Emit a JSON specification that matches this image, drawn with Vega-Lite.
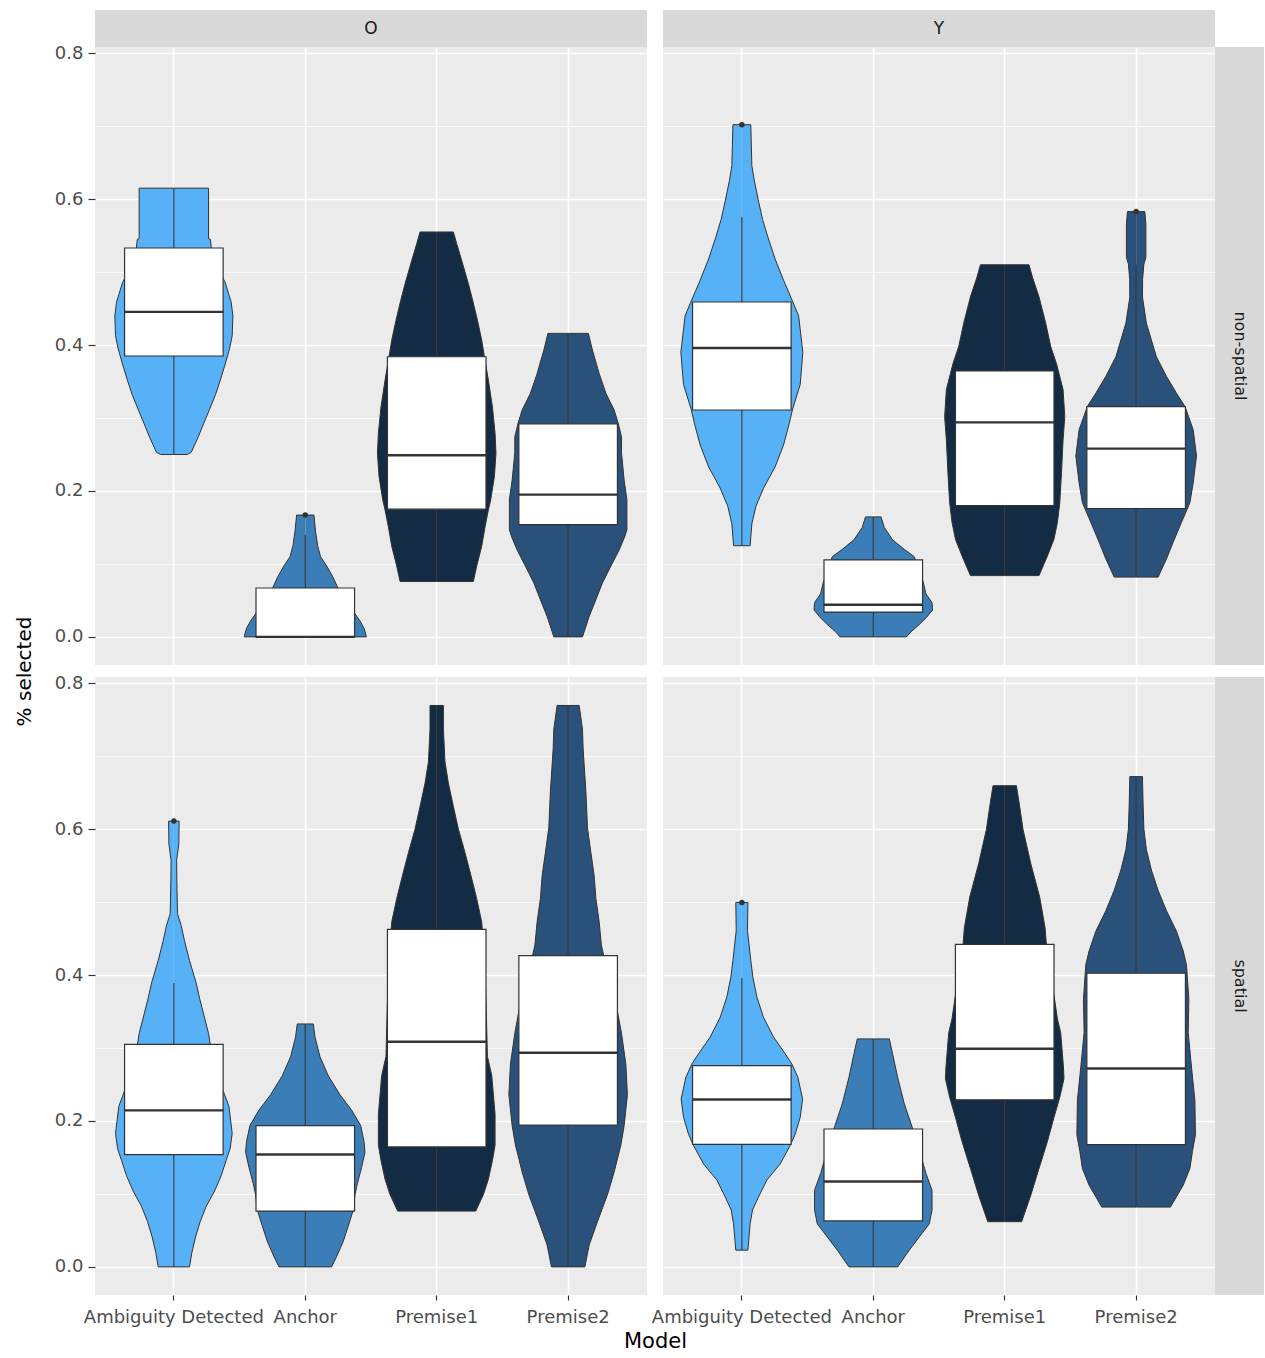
{
  "$schema": "https://vega.github.io/schema/vega-lite/v6.json",
  "background": "#FFFFFF",
  "padding": {"left": 14, "top": 10, "right": 0, "bottom": 4},
  "datasets": {
    "vOn": [
      {"m":"Ambiguity Detected","y":0.25,"h":0},{"m":"Ambiguity Detected","y":0.25,"h":0.101},{"m":"Ambiguity Detected","y":0.253,"h":0.132},{"m":"Ambiguity Detected","y":0.273,"h":0.183},{"m":"Ambiguity Detected","y":0.292,"h":0.226},{"m":"Ambiguity Detected","y":0.312,"h":0.272},{"m":"Ambiguity Detected","y":0.332,"h":0.317},{"m":"Ambiguity Detected","y":0.351,"h":0.352},{"m":"Ambiguity Detected","y":0.371,"h":0.386},{"m":"Ambiguity Detected","y":0.395,"h":0.424},{"m":"Ambiguity Detected","y":0.413,"h":0.444},{"m":"Ambiguity Detected","y":0.44,"h":0.449},{"m":"Ambiguity Detected","y":0.459,"h":0.436},{"m":"Ambiguity Detected","y":0.469,"h":0.419},{"m":"Ambiguity Detected","y":0.486,"h":0.39},{"m":"Ambiguity Detected","y":0.5,"h":0.35},{"m":"Ambiguity Detected","y":0.52,"h":0.304},{"m":"Ambiguity Detected","y":0.533,"h":0.285},{"m":"Ambiguity Detected","y":0.545,"h":0.278},{"m":"Ambiguity Detected","y":0.546,"h":0.264},{"m":"Ambiguity Detected","y":0.615,"h":0.264},{"m":"Ambiguity Detected","y":0.615,"h":0},
      {"m":"Anchor","y":0,"h":0},{"m":"Anchor","y":0,"h":0.464},{"m":"Anchor","y":0.0025,"h":0.462},{"m":"Anchor","y":0.012,"h":0.447},{"m":"Anchor","y":0.022,"h":0.416},{"m":"Anchor","y":0.035,"h":0.365},{"m":"Anchor","y":0.05,"h":0.304},{"m":"Anchor","y":0.068,"h":0.246},{"m":"Anchor","y":0.081,"h":0.213},{"m":"Anchor","y":0.096,"h":0.167},{"m":"Anchor","y":0.11,"h":0.116},{"m":"Anchor","y":0.125,"h":0.094},{"m":"Anchor","y":0.145,"h":0.078},{"m":"Anchor","y":0.167,"h":0.066},{"m":"Anchor","y":0.167,"h":0},
      {"m":"Premise1","y":0.076,"h":0},{"m":"Premise1","y":0.076,"h":0.279},{"m":"Premise1","y":0.097,"h":0.304},{"m":"Premise1","y":0.124,"h":0.342},{"m":"Premise1","y":0.151,"h":0.368},{"m":"Premise1","y":0.174,"h":0.393},{"m":"Premise1","y":0.188,"h":0.411},{"m":"Premise1","y":0.22,"h":0.439},{"m":"Premise1","y":0.252,"h":0.451},{"m":"Premise1","y":0.279,"h":0.444},{"m":"Premise1","y":0.315,"h":0.424},{"m":"Premise1","y":0.352,"h":0.393},{"m":"Premise1","y":0.384,"h":0.363},{"m":"Premise1","y":0.407,"h":0.342},{"m":"Premise1","y":0.434,"h":0.31},{"m":"Premise1","y":0.461,"h":0.274},{"m":"Premise1","y":0.484,"h":0.241},{"m":"Premise1","y":0.516,"h":0.19},{"m":"Premise1","y":0.539,"h":0.152},{"m":"Premise1","y":0.555,"h":0.127},{"m":"Premise1","y":0.555,"h":0},
      {"m":"Premise2","y":0,"h":0},{"m":"Premise2","y":0,"h":0.109},{"m":"Premise2","y":0.028,"h":0.16},{"m":"Premise2","y":0.051,"h":0.211},{"m":"Premise2","y":0.074,"h":0.261},{"m":"Premise2","y":0.097,"h":0.325},{"m":"Premise2","y":0.119,"h":0.388},{"m":"Premise2","y":0.138,"h":0.432},{"m":"Premise2","y":0.147,"h":0.447},{"m":"Premise2","y":0.188,"h":0.447},{"m":"Premise2","y":0.215,"h":0.426},{"m":"Premise2","y":0.252,"h":0.406},{"m":"Premise2","y":0.274,"h":0.406},{"m":"Premise2","y":0.293,"h":0.381},{"m":"Premise2","y":0.311,"h":0.35},{"m":"Premise2","y":0.334,"h":0.287},{"m":"Premise2","y":0.361,"h":0.236},{"m":"Premise2","y":0.393,"h":0.185},{"m":"Premise2","y":0.416,"h":0.154},{"m":"Premise2","y":0.416,"h":0}
    ],
    "vYn": [
      {"m":"Ambiguity Detected","y":0.125,"h":0},{"m":"Ambiguity Detected","y":0.125,"h":0.063},{"m":"Ambiguity Detected","y":0.155,"h":0.076},{"m":"Ambiguity Detected","y":0.179,"h":0.107},{"m":"Ambiguity Detected","y":0.204,"h":0.165},{"m":"Ambiguity Detected","y":0.233,"h":0.253},{"m":"Ambiguity Detected","y":0.263,"h":0.317},{"m":"Ambiguity Detected","y":0.292,"h":0.36},{"m":"Ambiguity Detected","y":0.312,"h":0.386},{"m":"Ambiguity Detected","y":0.346,"h":0.444},{"m":"Ambiguity Detected","y":0.39,"h":0.464},{"m":"Ambiguity Detected","y":0.44,"h":0.432},{"m":"Ambiguity Detected","y":0.462,"h":0.381},{"m":"Ambiguity Detected","y":0.489,"h":0.317},{"m":"Ambiguity Detected","y":0.518,"h":0.253},{"m":"Ambiguity Detected","y":0.548,"h":0.198},{"m":"Ambiguity Detected","y":0.572,"h":0.158},{"m":"Ambiguity Detected","y":0.597,"h":0.127},{"m":"Ambiguity Detected","y":0.626,"h":0.094},{"m":"Ambiguity Detected","y":0.646,"h":0.076},{"m":"Ambiguity Detected","y":0.702,"h":0.068},{"m":"Ambiguity Detected","y":0.702,"h":0},
      {"m":"Anchor","y":0,"h":0},{"m":"Anchor","y":0,"h":0.253},{"m":"Anchor","y":0.007,"h":0.287},{"m":"Anchor","y":0.017,"h":0.35},{"m":"Anchor","y":0.027,"h":0.406},{"m":"Anchor","y":0.037,"h":0.451},{"m":"Anchor","y":0.047,"h":0.447},{"m":"Anchor","y":0.059,"h":0.401},{"m":"Anchor","y":0.075,"h":0.38},{"m":"Anchor","y":0.09,"h":0.35},{"m":"Anchor","y":0.11,"h":0.312},{"m":"Anchor","y":0.12,"h":0.236},{"m":"Anchor","y":0.133,"h":0.147},{"m":"Anchor","y":0.15,"h":0.084},{"m":"Anchor","y":0.1645,"h":0.059},{"m":"Anchor","y":0.1645,"h":0},
      {"m":"Premise1","y":0.084,"h":0},{"m":"Premise1","y":0.084,"h":0.261},{"m":"Premise1","y":0.111,"h":0.325},{"m":"Premise1","y":0.134,"h":0.375},{"m":"Premise1","y":0.157,"h":0.401},{"m":"Premise1","y":0.184,"h":0.419},{"m":"Premise1","y":0.225,"h":0.432},{"m":"Premise1","y":0.27,"h":0.444},{"m":"Premise1","y":0.302,"h":0.457},{"m":"Premise1","y":0.339,"h":0.444},{"m":"Premise1","y":0.375,"h":0.393},{"m":"Premise1","y":0.398,"h":0.35},{"m":"Premise1","y":0.43,"h":0.312},{"m":"Premise1","y":0.466,"h":0.261},{"m":"Premise1","y":0.493,"h":0.211},{"m":"Premise1","y":0.51,"h":0.185},{"m":"Premise1","y":0.51,"h":0},
      {"m":"Premise2","y":0.082,"h":0},{"m":"Premise2","y":0.082,"h":0.167},{"m":"Premise2","y":0.107,"h":0.231},{"m":"Premise2","y":0.13,"h":0.282},{"m":"Premise2","y":0.157,"h":0.345},{"m":"Premise2","y":0.184,"h":0.409},{"m":"Premise2","y":0.211,"h":0.434},{"m":"Premise2","y":0.248,"h":0.459},{"m":"Premise2","y":0.284,"h":0.434},{"m":"Premise2","y":0.316,"h":0.371},{"m":"Premise2","y":0.334,"h":0.307},{"m":"Premise2","y":0.357,"h":0.231},{"m":"Premise2","y":0.384,"h":0.154},{"m":"Premise2","y":0.407,"h":0.116},{"m":"Premise2","y":0.43,"h":0.078},{"m":"Premise2","y":0.466,"h":0.048},{"m":"Premise2","y":0.49,"h":0.049},{"m":"Premise2","y":0.511,"h":0.059},{"m":"Premise2","y":0.52,"h":0.074},{"m":"Premise2","y":0.566,"h":0.074},{"m":"Premise2","y":0.583,"h":0.066},{"m":"Premise2","y":0.583,"h":0}
    ],
    "vOs": [
      {"m":"Ambiguity Detected","y":0,"h":0},{"m":"Ambiguity Detected","y":0,"h":0.119},{"m":"Ambiguity Detected","y":0.0195,"h":0.137},{"m":"Ambiguity Detected","y":0.041,"h":0.165},{"m":"Ambiguity Detected","y":0.062,"h":0.2},{"m":"Ambiguity Detected","y":0.083,"h":0.246},{"m":"Ambiguity Detected","y":0.104,"h":0.31},{"m":"Ambiguity Detected","y":0.125,"h":0.36},{"m":"Ambiguity Detected","y":0.146,"h":0.398},{"m":"Ambiguity Detected","y":0.162,"h":0.428},{"m":"Ambiguity Detected","y":0.183,"h":0.444},{"m":"Ambiguity Detected","y":0.22,"h":0.419},{"m":"Ambiguity Detected","y":0.236,"h":0.386},{"m":"Ambiguity Detected","y":0.25,"h":0.358},{"m":"Ambiguity Detected","y":0.27,"h":0.32},{"m":"Ambiguity Detected","y":0.29,"h":0.289},{"m":"Ambiguity Detected","y":0.32,"h":0.264},{"m":"Ambiguity Detected","y":0.341,"h":0.234},{"m":"Ambiguity Detected","y":0.368,"h":0.196},{"m":"Ambiguity Detected","y":0.389,"h":0.17},{"m":"Ambiguity Detected","y":0.42,"h":0.119},{"m":"Ambiguity Detected","y":0.447,"h":0.081},{"m":"Ambiguity Detected","y":0.468,"h":0.056},{"m":"Ambiguity Detected","y":0.484,"h":0.028},{"m":"Ambiguity Detected","y":0.526,"h":0.023},{"m":"Ambiguity Detected","y":0.557,"h":0.021},{"m":"Ambiguity Detected","y":0.58,"h":0.038},{"m":"Ambiguity Detected","y":0.611,"h":0.04},{"m":"Ambiguity Detected","y":0.611,"h":0},
      {"m":"Anchor","y":0,"h":0},{"m":"Anchor","y":0,"h":0.2},{"m":"Anchor","y":0.014,"h":0.238},{"m":"Anchor","y":0.035,"h":0.289},{"m":"Anchor","y":0.056,"h":0.327},{"m":"Anchor","y":0.078,"h":0.365},{"m":"Anchor","y":0.099,"h":0.378},{"m":"Anchor","y":0.114,"h":0.396},{"m":"Anchor","y":0.136,"h":0.428},{"m":"Anchor","y":0.157,"h":0.454},{"m":"Anchor","y":0.172,"h":0.447},{"m":"Anchor","y":0.194,"h":0.421},{"m":"Anchor","y":0.215,"h":0.352},{"m":"Anchor","y":0.236,"h":0.264},{"m":"Anchor","y":0.262,"h":0.175},{"m":"Anchor","y":0.288,"h":0.112},{"m":"Anchor","y":0.315,"h":0.074},{"m":"Anchor","y":0.333,"h":0.061},{"m":"Anchor","y":0.333,"h":0},
      {"m":"Premise1","y":0.0765,"h":0},{"m":"Premise1","y":0.0765,"h":0.297},{"m":"Premise1","y":0.099,"h":0.355},{"m":"Premise1","y":0.12,"h":0.393},{"m":"Premise1","y":0.146,"h":0.424},{"m":"Premise1","y":0.167,"h":0.444},{"m":"Premise1","y":0.209,"h":0.444},{"m":"Premise1","y":0.262,"h":0.419},{"m":"Premise1","y":0.2885,"h":0.386},{"m":"Premise1","y":0.35,"h":0.377},{"m":"Premise1","y":0.4,"h":0.369},{"m":"Premise1","y":0.44,"h":0.358},{"m":"Premise1","y":0.473,"h":0.342},{"m":"Premise1","y":0.505,"h":0.304},{"m":"Premise1","y":0.536,"h":0.261},{"m":"Premise1","y":0.568,"h":0.215},{"m":"Premise1","y":0.6,"h":0.165},{"m":"Premise1","y":0.631,"h":0.127},{"m":"Premise1","y":0.663,"h":0.089},{"m":"Premise1","y":0.692,"h":0.063},{"m":"Premise1","y":0.737,"h":0.051},{"m":"Premise1","y":0.7695,"h":0.051},{"m":"Premise1","y":0.7695,"h":0},
      {"m":"Premise2","y":0,"h":0},{"m":"Premise2","y":0,"h":0.127},{"m":"Premise2","y":0.03,"h":0.16},{"m":"Premise2","y":0.062,"h":0.223},{"m":"Premise2","y":0.099,"h":0.299},{"m":"Premise2","y":0.13,"h":0.35},{"m":"Premise2","y":0.167,"h":0.401},{"m":"Premise2","y":0.1935,"h":0.426},{"m":"Premise2","y":0.236,"h":0.451},{"m":"Premise2","y":0.278,"h":0.439},{"m":"Premise2","y":0.32,"h":0.406},{"m":"Premise2","y":0.36,"h":0.365},{"m":"Premise2","y":0.4,"h":0.304},{"m":"Premise2","y":0.441,"h":0.253},{"m":"Premise2","y":0.473,"h":0.236},{"m":"Premise2","y":0.505,"h":0.211},{"m":"Premise2","y":0.536,"h":0.198},{"m":"Premise2","y":0.568,"h":0.173},{"m":"Premise2","y":0.602,"h":0.147},{"m":"Premise2","y":0.652,"h":0.135},{"m":"Premise2","y":0.71,"h":0.114},{"m":"Premise2","y":0.737,"h":0.109},{"m":"Premise2","y":0.7695,"h":0.084},{"m":"Premise2","y":0.7695,"h":0}
    ],
    "vYs": [
      {"m":"Ambiguity Detected","y":0.023,"h":0},{"m":"Ambiguity Detected","y":0.023,"h":0.046},{"m":"Ambiguity Detected","y":0.059,"h":0.063},{"m":"Ambiguity Detected","y":0.078,"h":0.081},{"m":"Ambiguity Detected","y":0.096,"h":0.127},{"m":"Ambiguity Detected","y":0.119,"h":0.19},{"m":"Ambiguity Detected","y":0.141,"h":0.291},{"m":"Ambiguity Detected","y":0.1665,"h":0.368},{"m":"Ambiguity Detected","y":0.182,"h":0.406},{"m":"Ambiguity Detected","y":0.205,"h":0.444},{"m":"Ambiguity Detected","y":0.23,"h":0.462},{"m":"Ambiguity Detected","y":0.26,"h":0.426},{"m":"Ambiguity Detected","y":0.278,"h":0.381},{"m":"Ambiguity Detected","y":0.292,"h":0.33},{"m":"Ambiguity Detected","y":0.315,"h":0.241},{"m":"Ambiguity Detected","y":0.342,"h":0.165},{"m":"Ambiguity Detected","y":0.37,"h":0.114},{"m":"Ambiguity Detected","y":0.397,"h":0.084},{"m":"Ambiguity Detected","y":0.42,"h":0.068},{"m":"Ambiguity Detected","y":0.461,"h":0.043},{"m":"Ambiguity Detected","y":0.4995,"h":0.046},{"m":"Ambiguity Detected","y":0.4995,"h":0},
      {"m":"Anchor","y":0,"h":0},{"m":"Anchor","y":0,"h":0.185},{"m":"Anchor","y":0.023,"h":0.274},{"m":"Anchor","y":0.041,"h":0.35},{"m":"Anchor","y":0.059,"h":0.426},{"m":"Anchor","y":0.078,"h":0.447},{"m":"Anchor","y":0.105,"h":0.447},{"m":"Anchor","y":0.128,"h":0.401},{"m":"Anchor","y":0.16,"h":0.35},{"m":"Anchor","y":0.192,"h":0.295},{"m":"Anchor","y":0.2235,"h":0.236},{"m":"Anchor","y":0.26,"h":0.185},{"m":"Anchor","y":0.292,"h":0.147},{"m":"Anchor","y":0.3125,"h":0.122},{"m":"Anchor","y":0.3125,"h":0},
      {"m":"Premise1","y":0.062,"h":0},{"m":"Premise1","y":0.062,"h":0.129},{"m":"Premise1","y":0.098,"h":0.198},{"m":"Premise1","y":0.135,"h":0.261},{"m":"Premise1","y":0.172,"h":0.325},{"m":"Premise1","y":0.205,"h":0.375},{"m":"Premise1","y":0.2325,"h":0.419},{"m":"Premise1","y":0.258,"h":0.451},{"m":"Premise1","y":0.274,"h":0.447},{"m":"Premise1","y":0.321,"h":0.426},{"m":"Premise1","y":0.34,"h":0.401},{"m":"Premise1","y":0.37,"h":0.377},{"m":"Premise1","y":0.4,"h":0.35},{"m":"Premise1","y":0.442,"h":0.317},{"m":"Premise1","y":0.465,"h":0.307},{"m":"Premise1","y":0.507,"h":0.266},{"m":"Premise1","y":0.553,"h":0.198},{"m":"Premise1","y":0.6,"h":0.139},{"m":"Premise1","y":0.637,"h":0.109},{"m":"Premise1","y":0.6595,"h":0.089},{"m":"Premise1","y":0.6595,"h":0},
      {"m":"Premise2","y":0.082,"h":0},{"m":"Premise2","y":0.082,"h":0.261},{"m":"Premise2","y":0.112,"h":0.358},{"m":"Premise2","y":0.135,"h":0.409},{"m":"Premise2","y":0.158,"h":0.428},{"m":"Premise2","y":0.181,"h":0.451},{"m":"Premise2","y":0.228,"h":0.447},{"m":"Premise2","y":0.274,"h":0.421},{"m":"Premise2","y":0.321,"h":0.396},{"m":"Premise2","y":0.367,"h":0.401},{"m":"Premise2","y":0.414,"h":0.383},{"m":"Premise2","y":0.433,"h":0.358},{"m":"Premise2","y":0.46,"h":0.307},{"m":"Premise2","y":0.488,"h":0.231},{"m":"Premise2","y":0.516,"h":0.167},{"m":"Premise2","y":0.544,"h":0.116},{"m":"Premise2","y":0.572,"h":0.078},{"m":"Premise2","y":0.6,"h":0.059},{"m":"Premise2","y":0.633,"h":0.053},{"m":"Premise2","y":0.672,"h":0.048},{"m":"Premise2","y":0.672,"h":0}
    ],
    "box": [
      {"c":"O","r":"non-spatial","m":"Ambiguity Detected","lo":0.25,"q1":0.385,"med":0.4455,"q3":0.533,"hi":0.615},
      {"c":"O","r":"non-spatial","m":"Anchor","lo":0,"q1":0,"med":0,"q3":0.067,"hi":0.14},
      {"c":"O","r":"non-spatial","m":"Premise1","lo":0.076,"q1":0.175,"med":0.249,"q3":0.384,"hi":0.555},
      {"c":"O","r":"non-spatial","m":"Premise2","lo":0,"q1":0.154,"med":0.195,"q3":0.292,"hi":0.416},
      {"c":"Y","r":"non-spatial","m":"Ambiguity Detected","lo":0.125,"q1":0.311,"med":0.396,"q3":0.459,"hi":0.575},
      {"c":"Y","r":"non-spatial","m":"Anchor","lo":0,"q1":0.034,"med":0.044,"q3":0.1055,"hi":0.1645},
      {"c":"Y","r":"non-spatial","m":"Premise1","lo":0.084,"q1":0.18,"med":0.294,"q3":0.3645,"hi":0.51},
      {"c":"Y","r":"non-spatial","m":"Premise2","lo":0.082,"q1":0.176,"med":0.258,"q3":0.3155,"hi":0.51},
      {"c":"O","r":"spatial","m":"Ambiguity Detected","lo":0,"q1":0.154,"med":0.2145,"q3":0.305,"hi":0.389},
      {"c":"O","r":"spatial","m":"Anchor","lo":0,"q1":0.0765,"med":0.154,"q3":0.1935,"hi":0.333},
      {"c":"O","r":"spatial","m":"Premise1","lo":0.0765,"q1":0.1645,"med":0.3085,"q3":0.4625,"hi":0.7695},
      {"c":"O","r":"spatial","m":"Premise2","lo":0,"q1":0.1945,"med":0.2935,"q3":0.4265,"hi":0.7695},
      {"c":"Y","r":"spatial","m":"Ambiguity Detected","lo":0.023,"q1":0.168,"med":0.2295,"q3":0.276,"hi":0.396},
      {"c":"Y","r":"spatial","m":"Anchor","lo":0,"q1":0.063,"med":0.117,"q3":0.189,"hi":0.3125},
      {"c":"Y","r":"spatial","m":"Premise1","lo":0.062,"q1":0.229,"med":0.299,"q3":0.442,"hi":0.6595},
      {"c":"Y","r":"spatial","m":"Premise2","lo":0.082,"q1":0.1675,"med":0.272,"q3":0.4025,"hi":0.672}
    ],
    "out": [
      {"c":"O","r":"non-spatial","m":"Anchor","y":0.167},
      {"c":"Y","r":"non-spatial","m":"Ambiguity Detected","y":0.702},
      {"c":"Y","r":"non-spatial","m":"Premise2","y":0.583},
      {"c":"O","r":"spatial","m":"Ambiguity Detected","y":0.611},
      {"c":"Y","r":"spatial","m":"Ambiguity Detected","y":0.4995}
    ]
  },
  "columns": 4,
  "spacing": 0,
  "bounds": "flush",
  "concat": [
    {"width": 552, "height": 37, "view": {"fill": "#D9D9D9", "stroke": null}, "data": {"values": [{"g": "O"}]}, "mark": {"type": "text", "fontSize": 17, "color": "#1A1A1A"}, "encoding": {"text": {"field": "g", "type": "nominal"}}},
    {"width": 16, "height": 1, "data": {"values": []}, "mark": "point"},
    {"width": 552, "height": 37, "view": {"fill": "#D9D9D9", "stroke": null}, "data": {"values": [{"g": "Y"}]}, "mark": {"type": "text", "fontSize": 17, "color": "#1A1A1A"}, "encoding": {"text": {"field": "g", "type": "nominal"}}},
    {"width": 1, "height": 1, "data": {"values": []}, "mark": "point"},

    {
      "width": 552, "height": 618,
      "view": {"fill": "#EBEBEB", "stroke": null},
      "encoding": {"x": {"field": "m", "type": "nominal", "scale": {"domain": ["Ambiguity Detected", "Anchor", "Premise1", "Premise2"], "paddingInner": 0, "paddingOuter": 0.1},
        "axis": {"title": null, "grid": true, "gridColor": "#FFFFFF", "gridWidth": 1.6, "labels": false, "ticks": false, "domain": false, "bandPosition": 0.5}}},
      "layer": [
        {"data": {"name": "vOn"}, "mark": {"type": "line", "stroke": "#333333", "strokeWidth": 1},
          "encoding": {
            "xOffset": {"field": "h", "type": "quantitative", "scale": {"domain": [-0.5, 0.5], "nice": false, "zero": false}},
            "y": {"field": "y", "type": "quantitative", "scale": {"domain": [-0.0385, 0.8085], "nice": false, "zero": false},
              "axis": {"values": [0, 0.1, 0.2, 0.3, 0.4, 0.5, 0.6, 0.7, 0.8], "title": "% selected", "titleY": 624, "titleFontSize": 20, "titleFontWeight": "normal", "titleColor": "#000000", "titlePadding": 20,
                "grid": true, "gridColor": "#FFFFFF", "gridWidth": {"condition": {"test": "round(datum.value * 10) % 2 === 1", "value": 0.8}, "value": 1.6},
                "labelExpr": "round(datum.value * 10) % 2 === 0 ? format(datum.value, '.1f') : ''", "labelOverlap": false, "labelFontSize": 18, "labelColor": "#4D4D4D", "labelPadding": 5,
                "tickSize": 7, "tickColor": "#333333", "tickWidth": 1.2, "tickOpacity": {"condition": {"test": "round(datum.value * 10) % 2 === 1", "value": 0}, "value": 1}, "domain": false}},
            "fill": {"field": "m", "type": "nominal", "scale": {"domain": ["Ambiguity Detected", "Anchor", "Premise1", "Premise2"], "range": ["#56B1F7", "#3B7DB6", "#132B43", "#2A5179"]}, "legend": null},
            "order": {"value": null}}},
        {"data": {"name": "vOn"}, "mark": {"type": "line", "stroke": "#333333", "strokeWidth": 1},
          "encoding": {
            "xOffset": {"field": "h", "type": "quantitative", "scale": {"domain": [-0.5, 0.5], "nice": false, "zero": false, "reverse": true}},
            "y": {"field": "y", "type": "quantitative"},
            "fill": {"field": "m", "type": "nominal", "legend": null},
            "order": {"value": null}}},
        {"data": {"name": "box"}, "transform": [{"filter": "datum.c === 'O' && datum.r === 'non-spatial'"}], "mark": {"type": "rule", "color": "#333333", "strokeWidth": 1.1},
          "encoding": {"y": {"field": "lo", "type": "quantitative"}, "y2": {"field": "hi"}}},
        {"data": {"name": "box"}, "transform": [{"filter": "datum.c === 'O' && datum.r === 'non-spatial'"}], "mark": {"type": "bar", "fill": "#FFFFFF", "stroke": "#333333", "strokeWidth": 1.2, "width": {"band": 0.75}},
          "encoding": {"y": {"field": "q1", "type": "quantitative"}, "y2": {"field": "q3"}}},
        {"data": {"name": "box"}, "transform": [{"filter": "datum.c === 'O' && datum.r === 'non-spatial'"}], "mark": {"type": "tick", "color": "#333333", "thickness": 2.4, "size": 99, "opacity": 1},
          "encoding": {"y": {"field": "med", "type": "quantitative"}}},
        {"data": {"name": "out"}, "transform": [{"filter": "datum.c === 'O' && datum.r === 'non-spatial'"}], "mark": {"type": "point", "filled": true, "color": "#333333", "size": 30, "opacity": 1},
          "encoding": {"y": {"field": "y", "type": "quantitative"}}}
      ],
      "resolve": {"scale": {"xOffset": "independent"}}
    },
    {"width": 1, "height": 1, "data": {"values": []}, "mark": "point"},
    {
      "width": 552, "height": 618,
      "view": {"fill": "#EBEBEB", "stroke": null},
      "encoding": {"x": {"field": "m", "type": "nominal", "scale": {"domain": ["Ambiguity Detected", "Anchor", "Premise1", "Premise2"], "paddingInner": 0, "paddingOuter": 0.1},
        "axis": {"title": null, "grid": true, "gridColor": "#FFFFFF", "gridWidth": 1.6, "labels": false, "ticks": false, "domain": false, "bandPosition": 0.5}}},
      "layer": [
        {"data": {"name": "vYn"}, "mark": {"type": "line", "stroke": "#333333", "strokeWidth": 1},
          "encoding": {
            "xOffset": {"field": "h", "type": "quantitative", "scale": {"domain": [-0.5, 0.5], "nice": false, "zero": false}},
            "y": {"field": "y", "type": "quantitative", "scale": {"domain": [-0.0385, 0.8085], "nice": false, "zero": false},
              "axis": {"values": [0, 0.1, 0.2, 0.3, 0.4, 0.5, 0.6, 0.7, 0.8], "title": null, "grid": true, "gridColor": "#FFFFFF", "gridWidth": {"condition": {"test": "round(datum.value * 10) % 2 === 1", "value": 0.8}, "value": 1.6}, "labels": false, "ticks": false, "domain": false}},
            "fill": {"field": "m", "type": "nominal", "scale": {"domain": ["Ambiguity Detected", "Anchor", "Premise1", "Premise2"], "range": ["#56B1F7", "#3B7DB6", "#132B43", "#2A5179"]}, "legend": null},
            "order": {"value": null}}},
        {"data": {"name": "vYn"}, "mark": {"type": "line", "stroke": "#333333", "strokeWidth": 1},
          "encoding": {
            "xOffset": {"field": "h", "type": "quantitative", "scale": {"domain": [-0.5, 0.5], "nice": false, "zero": false, "reverse": true}},
            "y": {"field": "y", "type": "quantitative"},
            "fill": {"field": "m", "type": "nominal", "legend": null},
            "order": {"value": null}}},
        {"data": {"name": "box"}, "transform": [{"filter": "datum.c === 'Y' && datum.r === 'non-spatial'"}], "mark": {"type": "rule", "color": "#333333", "strokeWidth": 1.1},
          "encoding": {"y": {"field": "lo", "type": "quantitative"}, "y2": {"field": "hi"}}},
        {"data": {"name": "box"}, "transform": [{"filter": "datum.c === 'Y' && datum.r === 'non-spatial'"}], "mark": {"type": "bar", "fill": "#FFFFFF", "stroke": "#333333", "strokeWidth": 1.2, "width": {"band": 0.75}},
          "encoding": {"y": {"field": "q1", "type": "quantitative"}, "y2": {"field": "q3"}}},
        {"data": {"name": "box"}, "transform": [{"filter": "datum.c === 'Y' && datum.r === 'non-spatial'"}], "mark": {"type": "tick", "color": "#333333", "thickness": 2.4, "size": 99, "opacity": 1},
          "encoding": {"y": {"field": "med", "type": "quantitative"}}},
        {"data": {"name": "out"}, "transform": [{"filter": "datum.c === 'Y' && datum.r === 'non-spatial'"}], "mark": {"type": "point", "filled": true, "color": "#333333", "size": 30, "opacity": 1},
          "encoding": {"y": {"field": "y", "type": "quantitative"}}}
      ],
      "resolve": {"scale": {"xOffset": "independent"}}
    },
    {"width": 49, "height": 618, "view": {"fill": "#D9D9D9", "stroke": null}, "data": {"values": [{"g": "non-spatial"}]}, "mark": {"type": "text", "fontSize": 16, "angle": 90, "color": "#1A1A1A"}, "encoding": {"text": {"field": "g", "type": "nominal"}}},

    {"width": 1, "height": 12, "data": {"values": []}, "mark": "point"},
    {"width": 1, "height": 1, "data": {"values": []}, "mark": "point"},
    {"width": 1, "height": 1, "data": {"values": []}, "mark": "point"},
    {"width": 1, "height": 1, "data": {"values": []}, "mark": "point"},

    {
      "width": 552, "height": 618,
      "view": {"fill": "#EBEBEB", "stroke": null},
      "encoding": {"x": {"field": "m", "type": "nominal", "scale": {"domain": ["Ambiguity Detected", "Anchor", "Premise1", "Premise2"], "paddingInner": 0, "paddingOuter": 0.1},
        "axis": {"title": "Model", "titleX": 560, "titleFontSize": 21, "titleFontWeight": "normal", "titleColor": "#000000", "titlePadding": 4,
          "grid": true, "gridColor": "#FFFFFF", "gridWidth": 1.6, "labelAngle": 0, "labelFontSize": 18, "labelColor": "#4D4D4D", "labelPadding": 8, "labelOverlap": false, "labelLimit": 0,
          "tickSize": 5, "tickColor": "#333333", "tickWidth": 1.2, "domain": false, "bandPosition": 0.5}}},
      "layer": [
        {"data": {"name": "vOs"}, "mark": {"type": "line", "stroke": "#333333", "strokeWidth": 1},
          "encoding": {
            "xOffset": {"field": "h", "type": "quantitative", "scale": {"domain": [-0.5, 0.5], "nice": false, "zero": false}},
            "y": {"field": "y", "type": "quantitative", "scale": {"domain": [-0.0385, 0.8085], "nice": false, "zero": false},
              "axis": {"values": [0, 0.1, 0.2, 0.3, 0.4, 0.5, 0.6, 0.7, 0.8], "title": null,
                "grid": true, "gridColor": "#FFFFFF", "gridWidth": {"condition": {"test": "round(datum.value * 10) % 2 === 1", "value": 0.8}, "value": 1.6},
                "labelExpr": "round(datum.value * 10) % 2 === 0 ? format(datum.value, '.1f') : ''", "labelOverlap": false, "labelFontSize": 18, "labelColor": "#4D4D4D", "labelPadding": 5,
                "tickSize": 7, "tickColor": "#333333", "tickWidth": 1.2, "tickOpacity": {"condition": {"test": "round(datum.value * 10) % 2 === 1", "value": 0}, "value": 1}, "domain": false}},
            "fill": {"field": "m", "type": "nominal", "scale": {"domain": ["Ambiguity Detected", "Anchor", "Premise1", "Premise2"], "range": ["#56B1F7", "#3B7DB6", "#132B43", "#2A5179"]}, "legend": null},
            "order": {"value": null}}},
        {"data": {"name": "vOs"}, "mark": {"type": "line", "stroke": "#333333", "strokeWidth": 1},
          "encoding": {
            "xOffset": {"field": "h", "type": "quantitative", "scale": {"domain": [-0.5, 0.5], "nice": false, "zero": false, "reverse": true}},
            "y": {"field": "y", "type": "quantitative"},
            "fill": {"field": "m", "type": "nominal", "legend": null},
            "order": {"value": null}}},
        {"data": {"name": "box"}, "transform": [{"filter": "datum.c === 'O' && datum.r === 'spatial'"}], "mark": {"type": "rule", "color": "#333333", "strokeWidth": 1.1},
          "encoding": {"y": {"field": "lo", "type": "quantitative"}, "y2": {"field": "hi"}}},
        {"data": {"name": "box"}, "transform": [{"filter": "datum.c === 'O' && datum.r === 'spatial'"}], "mark": {"type": "bar", "fill": "#FFFFFF", "stroke": "#333333", "strokeWidth": 1.2, "width": {"band": 0.75}},
          "encoding": {"y": {"field": "q1", "type": "quantitative"}, "y2": {"field": "q3"}}},
        {"data": {"name": "box"}, "transform": [{"filter": "datum.c === 'O' && datum.r === 'spatial'"}], "mark": {"type": "tick", "color": "#333333", "thickness": 2.4, "size": 99, "opacity": 1},
          "encoding": {"y": {"field": "med", "type": "quantitative"}}},
        {"data": {"name": "out"}, "transform": [{"filter": "datum.c === 'O' && datum.r === 'spatial'"}], "mark": {"type": "point", "filled": true, "color": "#333333", "size": 30, "opacity": 1},
          "encoding": {"y": {"field": "y", "type": "quantitative"}}}
      ],
      "resolve": {"scale": {"xOffset": "independent"}}
    },
    {"width": 1, "height": 1, "data": {"values": []}, "mark": "point"},
    {
      "width": 552, "height": 618,
      "view": {"fill": "#EBEBEB", "stroke": null},
      "encoding": {"x": {"field": "m", "type": "nominal", "scale": {"domain": ["Ambiguity Detected", "Anchor", "Premise1", "Premise2"], "paddingInner": 0, "paddingOuter": 0.1},
        "axis": {"title": null, "grid": true, "gridColor": "#FFFFFF", "gridWidth": 1.6, "labelAngle": 0, "labelFontSize": 18, "labelColor": "#4D4D4D", "labelPadding": 8, "labelOverlap": false, "labelLimit": 0,
          "tickSize": 5, "tickColor": "#333333", "tickWidth": 1.2, "domain": false, "bandPosition": 0.5}}},
      "layer": [
        {"data": {"name": "vYs"}, "mark": {"type": "line", "stroke": "#333333", "strokeWidth": 1},
          "encoding": {
            "xOffset": {"field": "h", "type": "quantitative", "scale": {"domain": [-0.5, 0.5], "nice": false, "zero": false}},
            "y": {"field": "y", "type": "quantitative", "scale": {"domain": [-0.0385, 0.8085], "nice": false, "zero": false},
              "axis": {"values": [0, 0.1, 0.2, 0.3, 0.4, 0.5, 0.6, 0.7, 0.8], "title": null, "grid": true, "gridColor": "#FFFFFF", "gridWidth": {"condition": {"test": "round(datum.value * 10) % 2 === 1", "value": 0.8}, "value": 1.6}, "labels": false, "ticks": false, "domain": false}},
            "fill": {"field": "m", "type": "nominal", "scale": {"domain": ["Ambiguity Detected", "Anchor", "Premise1", "Premise2"], "range": ["#56B1F7", "#3B7DB6", "#132B43", "#2A5179"]}, "legend": null},
            "order": {"value": null}}},
        {"data": {"name": "vYs"}, "mark": {"type": "line", "stroke": "#333333", "strokeWidth": 1},
          "encoding": {
            "xOffset": {"field": "h", "type": "quantitative", "scale": {"domain": [-0.5, 0.5], "nice": false, "zero": false, "reverse": true}},
            "y": {"field": "y", "type": "quantitative"},
            "fill": {"field": "m", "type": "nominal", "legend": null},
            "order": {"value": null}}},
        {"data": {"name": "box"}, "transform": [{"filter": "datum.c === 'Y' && datum.r === 'spatial'"}], "mark": {"type": "rule", "color": "#333333", "strokeWidth": 1.1},
          "encoding": {"y": {"field": "lo", "type": "quantitative"}, "y2": {"field": "hi"}}},
        {"data": {"name": "box"}, "transform": [{"filter": "datum.c === 'Y' && datum.r === 'spatial'"}], "mark": {"type": "bar", "fill": "#FFFFFF", "stroke": "#333333", "strokeWidth": 1.2, "width": {"band": 0.75}},
          "encoding": {"y": {"field": "q1", "type": "quantitative"}, "y2": {"field": "q3"}}},
        {"data": {"name": "box"}, "transform": [{"filter": "datum.c === 'Y' && datum.r === 'spatial'"}], "mark": {"type": "tick", "color": "#333333", "thickness": 2.4, "size": 99, "opacity": 1},
          "encoding": {"y": {"field": "med", "type": "quantitative"}}},
        {"data": {"name": "out"}, "transform": [{"filter": "datum.c === 'Y' && datum.r === 'spatial'"}], "mark": {"type": "point", "filled": true, "color": "#333333", "size": 30, "opacity": 1},
          "encoding": {"y": {"field": "y", "type": "quantitative"}}}
      ],
      "resolve": {"scale": {"xOffset": "independent"}}
    },
    {"width": 49, "height": 618, "view": {"fill": "#D9D9D9", "stroke": null}, "data": {"values": [{"g": "spatial"}]}, "mark": {"type": "text", "fontSize": 16, "angle": 90, "color": "#1A1A1A"}, "encoding": {"text": {"field": "g", "type": "nominal"}}}
  ],
  "config": {
    "font": "DejaVu Sans",
    "view": {"stroke": null},
    "axis": {"labelFont": "DejaVu Sans", "titleFont": "DejaVu Sans"}
  }
}
